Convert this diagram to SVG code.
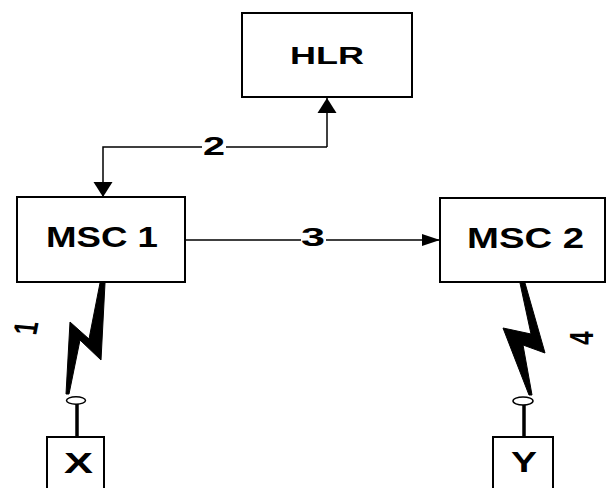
<svg xmlns="http://www.w3.org/2000/svg" width="607" height="488" viewBox="0 0 607 488">
<defs>
<style>
.box{fill:#fff;stroke:#000;stroke-width:2}
.lbl{font-family:"Liberation Sans",Arial,sans-serif;font-weight:bold;fill:#000}
.conn{fill:none;stroke:#000;stroke-width:1.5}
.bolt{fill:#000;stroke:#000;stroke-width:1}
.ant{fill:#fff;stroke:#000;stroke-width:1.5}
.stem{stroke:#000;stroke-width:3.5}
</style>
<marker id="av" markerUnits="userSpaceOnUse" markerWidth="16" markerHeight="20" refX="15" refY="10" orient="auto">
<path d="M0,0.5 L15,10 L0,19.5 Z" fill="#000"/>
</marker>
<marker id="ah" markerUnits="userSpaceOnUse" markerWidth="19" markerHeight="13" refX="18" refY="6.5" orient="auto">
<path d="M0,0.5 L18,6.5 L0,12.5 Z" fill="#000"/>
</marker>
</defs>
<rect width="607" height="488" fill="#fff"/>

<g id="connectors">
<path class="conn" d="M327,147 V98" marker-end="url(#av)"/>
<path class="conn" d="M327,147 H226"/>
<path class="conn" d="M202,147 H103 V197" marker-end="url(#av)"/>
<text class="lbl" x="203" y="155" font-size="25" textLength="22" lengthAdjust="spacingAndGlyphs">2</text>
<path class="conn" d="M185,240 H301"/>
<path class="conn" d="M326,240 H440" marker-end="url(#ah)"/>
<text class="lbl" x="301" y="246" font-size="26" textLength="24" lengthAdjust="spacingAndGlyphs">3</text>
</g>

<g id="HLR">
<rect class="box" x="242" y="13" width="170" height="84"/>
<text class="lbl" x="290" y="64" font-size="24" textLength="74" lengthAdjust="spacingAndGlyphs">HLR</text>
</g>

<g id="MSC1">
<rect class="box" x="17" y="197" width="168" height="85"/>
<text class="lbl" x="46" y="247" font-size="29" textLength="112" lengthAdjust="spacingAndGlyphs">MSC 1</text>
</g>

<g id="MSC2">
<rect class="box" x="440" y="198" width="165" height="84"/>
<text class="lbl" x="467" y="248" font-size="29" textLength="117" lengthAdjust="spacingAndGlyphs">MSC 2</text>
</g>

<g id="link1">
<polygon class="bolt" points="102,283 105,283 101,360 80,340 69,394 66,394 70,322 89,339 100,283"/>
<text class="lbl" transform="translate(26,328) scale(1.4,1) rotate(-82)" x="0" y="0" font-size="24" text-anchor="middle" dominant-baseline="central">1</text>
</g>

<g id="link4">
<polygon class="bolt" points="520,283 525,283 545,353 523,345 532,395 529,395 503,328 531,334"/>
<text class="lbl" transform="translate(581,338) scale(1.4,1) rotate(-90)" x="0" y="0" font-size="24" text-anchor="middle" dominant-baseline="central">4</text>
</g>

<g id="X">
<line class="stem" x1="77" y1="404" x2="77" y2="437"/>
<ellipse class="ant" cx="76" cy="400.5" rx="9.5" ry="3.7"/>
<rect class="box" x="47" y="437" width="57" height="60"/>
<text class="lbl" x="64" y="473" font-size="30" textLength="29" lengthAdjust="spacingAndGlyphs">X</text>
</g>

<g id="Y">
<line class="stem" x1="524" y1="405" x2="524" y2="437"/>
<ellipse class="ant" cx="523" cy="401" rx="10" ry="4"/>
<rect class="box" x="493" y="437" width="60" height="60"/>
<text class="lbl" x="511" y="472" font-size="29" textLength="26" lengthAdjust="spacingAndGlyphs">Y</text>
</g>
</svg>
